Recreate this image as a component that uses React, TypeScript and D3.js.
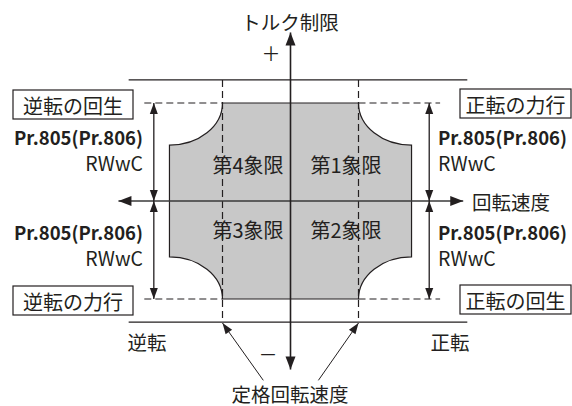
import React from 'react';
import * as d3 from 'd3';

// speed in units of rated speed, torque in units of the torque limit
const ratedSpeed = [-1, 1];
const torqueLimit = [-1, 1];
const maxSpeed = 1.78;
const torqueAtMax = 0.57;
const outerTorque = 1.235;
const outerSpeed = [-2.38, 2.6];
const axisSpeed = [-2.53, 2.54];
const axisTorque = [-1.72, 1.72];
const dashSpeed = [-2.15, 2.2];
const arrowSpeed = [-2.01, 2.04];

const quadrantLabels = ['第1象限', '第2象限', '第3象限', '第4象限'];
const modeLabels = ['正転の力行', '正転の回生', '逆転の力行', '逆転の回生'];
const paramLabel = 'Pr.805(Pr.806)';
const sourceLabel = 'RWwC';
const axisTitles = ['トルク制限', '回転速度', '定格回転速度'];
const directionLabels = ['正転', '逆転'];
const signLabels = ['＋', '－'];

const W = 572;
const H = 406;
const ink = '#231f20';
const font = '"Noto Sans CJK JP", "Noto Sans", sans-serif';

const x = d3.scaleLinear().domain([-1, 1]).range([222.5, 358.5]);
const y = d3.scaleLinear().domain([-1, 1]).range([299, 103]);

function head(tx: number, ty: number, fx: number, fy: number, len = 10, hw = 4) {
  const a = Math.atan2(ty - fy, tx - fx);
  const bx = tx - len * Math.cos(a), by = ty - len * Math.sin(a);
  const px = -Math.sin(a) * hw, py = Math.cos(a) * hw;
  return `M${tx},${ty}L${bx + px},${by + py}L${bx - px},${by - py}Z`;
}

function Arrow({ x1, y1, x2, y2, both = false, len = 10, hw = 4, sw = 1.3 }: any) {
  return (
    <g>
      <line x1={x1} y1={y1} x2={x2} y2={y2} stroke={ink} strokeWidth={sw} />
      <path d={head(x2, y2, x1, y1, len, hw)} fill={ink} />
      {both && <path d={head(x1, y1, x2, y2, len, hw)} fill={ink} />}
    </g>
  );
}

function Box({ x0, y0, w, h, text }: any) {
  return (
    <g>
      <rect x={x0} y={y0} width={w} height={h} fill="#fff" stroke={ink} strokeWidth={1.2} />
      <text x={x0 + w / 2} y={y0 + h / 2 + 1} textAnchor="middle" dominantBaseline="central"
        fontSize={20} fill={ink}>{text}</text>
    </g>
  );
}

export default function App() {
  const xl = x(-maxSpeed), xr = x(maxSpeed);
  const xa = x(ratedSpeed[0]), xb = x(ratedSpeed[1]);
  const yt = y(torqueLimit[1]), yb = y(torqueLimit[0]);
  const yct = y(torqueAtMax), ycb = y(-torqueAtMax);
  const rx = xa - xl, ryT = yct - yt, ryB = yb - ycb;
  const shape = [
    `M${xa},${yt}`, `L${xb},${yt}`,
    `A${rx},${ryT} 0 0 0 ${xr},${yct}`,
    `L${xr},${ycb}`,
    `A${rx},${ryB} 0 0 0 ${xb},${yb}`,
    `L${xa},${yb}`,
    `A${rx},${ryB} 0 0 0 ${xl},${ycb}`,
    `L${xl},${yct}`,
    `A${rx},${ryT} 0 0 0 ${xa},${yt}`, 'Z',
  ].join(' ');

  const x0 = x(0), y0 = y(0);
  const yOutT = y(outerTorque), yOutB = y(-outerTorque);

  return (
    <svg width={W} height={H} style={{ position: 'absolute', left: 0, top: 0, background: '#fff' }}
      fontFamily={font}>
      {/* outer limit lines */}
      <line x1={x(outerSpeed[0])} x2={x(outerSpeed[1])} y1={yOutT} y2={yOutT} stroke={ink} strokeWidth={1.3} />
      <line x1={x(outerSpeed[0])} x2={x(outerSpeed[1])} y1={yOutB} y2={yOutB} stroke={ink} strokeWidth={1.3} />

      <path d={shape} fill="#c8c8c8" stroke={ink} strokeWidth={1.2} />

      {/* rated speed dashed lines */}
      {ratedSpeed.map((s) => (
        <line key={'v' + s} x1={x(s)} x2={x(s)} y1={yOutT} y2={yOutB} stroke={ink}
          strokeWidth={1.2} strokeDasharray="7,4" />
      ))}
      {torqueLimit.map((t) => (
        <g key={'h' + t}>
          <line x1={x(dashSpeed[0])} x2={xa} y1={y(t)} y2={y(t)} stroke={ink} strokeWidth={1.2} strokeDasharray="7,4" />
          <line x1={xb} x2={x(dashSpeed[1])} y1={y(t)} y2={y(t)} stroke={ink} strokeWidth={1.2} strokeDasharray="7,4" />
        </g>
      ))}

      {/* axes */}
      <line x1={x(axisSpeed[0])} x2={x(axisSpeed[1])} y1={y0} y2={y0} stroke="#3a3a3a" strokeWidth={1.6} />
      <path d={head(x(axisSpeed[0]), y0, x0, y0, 13, 5)} fill={ink} />
      <path d={head(x(axisSpeed[1]), y0, x0, y0, 13, 5)} fill={ink} />
      <Arrow x1={x0} y1={y(axisTorque[0])} x2={x0} y2={y(axisTorque[1])} len={13} hw={5} sw={1.6} />
      <path d={head(x0, y(axisTorque[0]), x0, y0, 13, 5)} fill={ink} />

      {/* Pr.805 double arrows */}
      {arrowSpeed.map((s) => (
        <g key={'a' + s}>
          <Arrow x1={x(s)} y1={y0} x2={x(s)} y2={yt} both len={11} hw={4} />
          <Arrow x1={x(s)} y1={y0} x2={x(s)} y2={yb} both len={11} hw={4} />
        </g>
      ))}

      {/* rated speed pointers */}
      <Arrow x1={x(-0.4)} y1={y(-1.83)} x2={xa} y2={yOutB + 1} len={11} hw={4} sw={1} />
      <Arrow x1={x(0.41)} y1={y(-1.83)} x2={xb} y2={yOutB + 1} len={11} hw={4} sw={1} />

      {/* quadrant labels */}
      <g fontSize={20} fill={ink} textAnchor="middle" dominantBaseline="central">
        <text x={346} y={164}>{quadrantLabels[0]}</text>
        <text x={346} y={229}>{quadrantLabels[1]}</text>
        <text x={248} y={229}>{quadrantLabels[2]}</text>
        <text x={248} y={164}>{quadrantLabels[3]}</text>
      </g>

      {/* mode boxes */}
      <Box x0={460} y0={89} w={111} h={29} text={modeLabels[0]} />
      <Box x0={460} y0={285} w={111} h={29} text={modeLabels[1]} />
      <Box x0={13} y0={286} w={120} h={29} text={modeLabels[2]} />
      <Box x0={13} y0={90} w={120} h={29} text={modeLabels[3]} />

      {/* parameter labels */}
      <g fill={ink}>
        {[145, 240].map((by) => (
          <g key={'l' + by}>
            <text x={143} y={by} textAnchor="end" fontWeight="bold" fontSize={18.5}>{paramLabel}</text>
            <text x={143} y={by + 26} textAnchor="end" fontSize={19.5}>{sourceLabel}</text>
            <text x={438} y={by} textAnchor="start" fontWeight="bold" fontSize={18.5}>{paramLabel}</text>
            <text x={438} y={by + 26} textAnchor="start" fontSize={19.5}>{sourceLabel}</text>
          </g>
        ))}
      </g>

      {/* axis titles */}
      <g fill={ink} fontSize={19.5} dominantBaseline="central">
        <text x={290} y={21} textAnchor="middle">{axisTitles[0]}</text>
        <text x={472} y={201} textAnchor="start">{axisTitles[1]}</text>
        <text x={290} y={393} textAnchor="middle">{axisTitles[2]}</text>
        <text x={271} y={52} textAnchor="middle" fontSize={19}>{signLabels[0]}</text>
        <text x={268} y={353} textAnchor="middle" fontSize={19}>{signLabels[1]}</text>
        <text x={450} y={341} textAnchor="middle">{directionLabels[0]}</text>
        <text x={147} y={341} textAnchor="middle">{directionLabels[1]}</text>
      </g>
    </svg>
  );
}
